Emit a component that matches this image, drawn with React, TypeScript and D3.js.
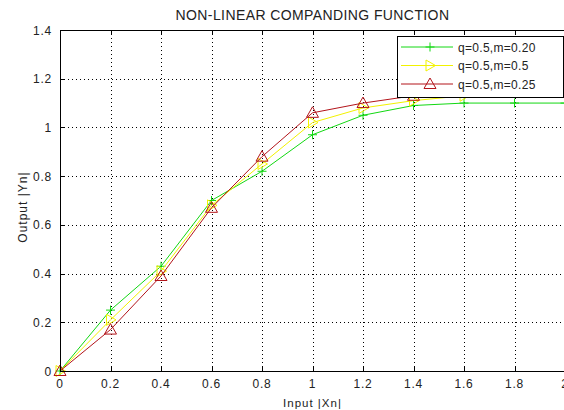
import * as React from 'react';
import * as d3 from 'd3';

const inputs = [0, 0.2, 0.4, 0.6, 0.8, 1, 1.2, 1.4, 1.6, 1.8, 2];
const greenValues = [0, 0.25, 0.43, 0.7, 0.82, 0.97, 1.05, 1.09, 1.1, 1.1, 1.1];
const yellowValues = [0, 0.21, 0.41, 0.68, 0.85, 1.02, 1.08, 1.11, 1.13, 1.15, 1.16];
const redValues = [0, 0.17, 0.39, 0.67, 0.88, 1.06, 1.1, 1.13, 1.15, 1.16, 1.17];
const seriesNames = ['q=0.5,m=0.20', 'q=0.5,m=0.5', 'q=0.5,m=0.25'];
const xTicks = [0, 0.2, 0.4, 0.6, 0.8, 1, 1.2, 1.4, 1.6, 1.8, 2];
const yTicks = [0, 0.2, 0.4, 0.6, 0.8, 1, 1.2, 1.4];

const dimensions = { width: 564, height: 410 };
const margin = { top: 30, left: 60, right: -1, bottom: 39 };

const colors = ['#12d812', '#f2f200', '#b3141a'];
const font = '"Liberation Sans", Arial, sans-serif';

type Kind = 'plus' | 'right' | 'up';

const Marker: React.FC<{ x: number; y: number; kind: Kind; color: string }> = ({ x, y, kind, color }) => {
  if (kind === 'plus') {
    return (
      <path d={`M${x - 4.5},${y}H${x + 4.5}M${x},${y - 4.5}V${y + 4.5}`} stroke={color} strokeWidth={1} fill="none" />
    );
  }
  if (kind === 'right') {
    return (
      <path d={`M${x - 4},${y - 5.5}L${x + 5.5},${y}L${x - 4},${y + 5.5}Z`} stroke={color} strokeWidth={1} fill="none" />
    );
  }
  return (
    <path d={`M${x},${y - 6}L${x + 6},${y + 4.5}L${x - 6},${y + 4.5}Z`} stroke={color} strokeWidth={1} fill="none" />
  );
};

const App: React.FC = () => {
  const x = d3.scaleLinear([0, 2], [margin.left, dimensions.width - margin.right]);
  const y = d3.scaleLinear([0, 1.4], [dimensions.height - margin.bottom, margin.top]);

  const series = [
    { name: seriesNames[0], values: greenValues, kind: 'plus' as Kind, color: colors[0] },
    { name: seriesNames[1], values: yellowValues, kind: 'right' as Kind, color: colors[1] },
    { name: seriesNames[2], values: redValues, kind: 'up' as Kind, color: colors[2] },
  ];

  const line = d3
    .line<number>()
    .x((_, i) => x(inputs[i]))
    .y((d) => y(d));

  const x0 = x(0);
  const x1 = x(2);
  const y0 = y(0);
  const y1 = y(1.4);

  const legend = { x: 397, y: 36, w: 166, h: 61 };

  return (
    <svg
      width={dimensions.width}
      height={dimensions.height}
      viewBox={`0 0 ${dimensions.width} ${dimensions.height}`}
      style={{ position: 'absolute', left: 0, top: 0, background: '#fff' }}
      fontFamily={font}
    >
      <rect width={dimensions.width} height={dimensions.height} fill="#fff" />
      {/* grid */}
      <g stroke="#000" strokeWidth={1} strokeDasharray="1,3">
        {xTicks.slice(1, -1).map((t) => (
          <line key={`gx${t}`} x1={Math.round(x(t)) + 0.5} x2={Math.round(x(t)) + 0.5} y1={y1} y2={y0} />
        ))}
        {yTicks.slice(1, -1).map((t) => (
          <line key={`gy${t}`} x1={x0} x2={x1} y1={Math.round(y(t)) + 0.5} y2={Math.round(y(t)) + 0.5} />
        ))}
      </g>
      {/* series */}
      {series.map((s) => (
        <g key={s.name}>
          <path d={line(s.values) ?? ''} fill="none" stroke={s.color} strokeWidth={1} />
          {s.values.map((v, i) => (
            <Marker key={i} x={x(inputs[i])} y={y(v)} kind={s.kind} color={s.color} />
          ))}
        </g>
      ))}
      {/* axes box */}
      <rect x={x0 + 0.5} y={y1 + 0.5} width={x1 - x0} height={y0 - y1} fill="none" stroke="#000" strokeWidth={1} />
      <g stroke="#000">
        {xTicks.map((t) => (
          <g key={`tx${t}`}>
            <line x1={Math.round(x(t)) + 0.5} x2={Math.round(x(t)) + 0.5} y1={y0} y2={y0 - 5} />
            <line x1={Math.round(x(t)) + 0.5} x2={Math.round(x(t)) + 0.5} y1={y1} y2={y1 + 5} />
          </g>
        ))}
        {yTicks.map((t) => (
          <g key={`ty${t}`}>
            <line x1={x0} x2={x0 + 5} y1={Math.round(y(t)) + 0.5} y2={Math.round(y(t)) + 0.5} />
          </g>
        ))}
      </g>
      <g fontSize={12} fill="#222" letterSpacing={0.8}>
        {xTicks.map((t) => (
          <text key={`lx${t}`} x={x(t)} y={y0 + 17} textAnchor="middle">
            {d3.format('~g')(t)}
          </text>
        ))}
        {yTicks.map((t) => (
          <text key={`ly${t}`} x={x0 - 8} y={y(t) + 4.5} textAnchor="end">
            {d3.format('~g')(t)}
          </text>
        ))}
      </g>
      <text x={(x0 + x1) / 2} y={19.5} textAnchor="middle" fontSize={14} letterSpacing={0.4} fill="#222">
        NON-LINEAR COMPANDING FUNCTION
      </text>
      <text x={(x0 + x1) / 2} y={407} textAnchor="middle" fontSize={11.5} letterSpacing={1} fill="#222">
        Input |Xn|
      </text>
      <text
        transform={`translate(27, 207) rotate(-90)`}
        textAnchor="middle"
        fontSize={12}
        letterSpacing={1}
        fill="#222"
      >
        Output |Yn|
      </text>
      {/* legend */}
      <g>
        <rect x={legend.x + 0.5} y={legend.y + 0.5} width={legend.w} height={legend.h} fill="#fff" stroke="#000" />
        {series.map((s, i) => {
          const ly = legend.y + 11 + i * 18.5;
          return (
            <g key={`lg${s.name}`}>
              <line x1={legend.x + 4} x2={legend.x + 56} y1={ly} y2={ly} stroke={s.color} />
              <Marker x={legend.x + 33} y={ly} kind={s.kind} color={s.color} />
              <text x={legend.x + 61} y={ly + 4.5} fontSize={12} letterSpacing={0.3} fill="#222">
                {s.name}
              </text>
            </g>
          );
        })}
      </g>
    </svg>
  );
};

export default App;
